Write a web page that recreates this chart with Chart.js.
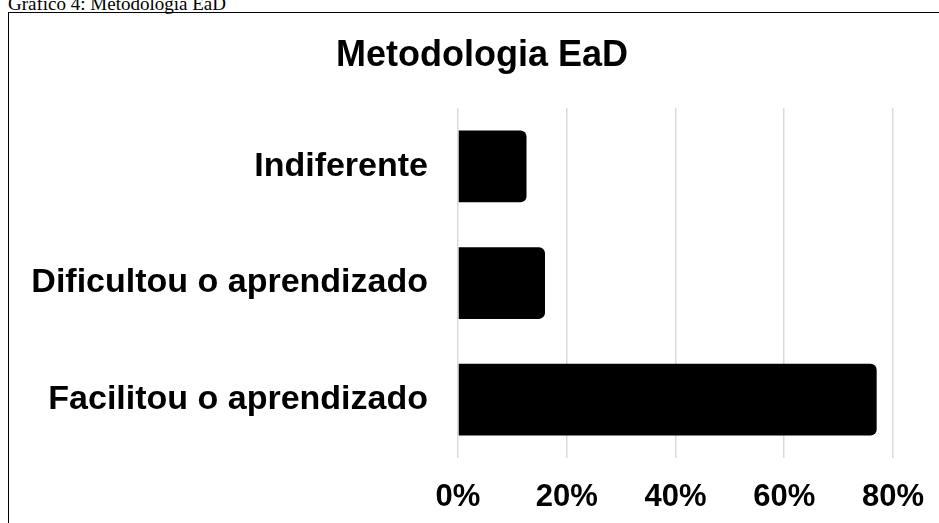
<!DOCTYPE html>
<html>
<head>
<meta charset="utf-8">
<script src="https://cdn.jsdelivr.net/npm/chart.js@4/dist/chart.umd.min.js"></script>
<style>
  html, body { margin: 0; padding: 0; background: #fff; overflow: hidden; }
  #caption {
    position: absolute; left: 8px; top: -6px;
    font-family: "Liberation Serif", "Times New Roman", serif;
    font-size: 19px; line-height: 19px; color: #000; white-space: nowrap;
  }
  #frame {
    position: absolute; left: 8px; top: 12px; width: 960px; height: 560px;
    border: 1.5px solid #000; box-sizing: border-box;
  }
  #title {
    position: absolute; left: 282px; width: 400px; top: 36px; text-align: center;
    font-family: "Liberation Sans", Arial, sans-serif; font-weight: bold;
    font-size: 36px; line-height: 36px; color: #000; white-space: nowrap;
  }
  #wrap { position: absolute; left: 0; top: 0; width: 945px; height: 523px; }
</style>
</head>
<body>
<div id="caption">Gráfico 4: Metodologia EaD</div>
<div id="frame"></div>
<div id="wrap"><canvas id="chart"></canvas></div>
<div id="title">Metodologia EaD</div>
<script>
// data
const categories = ['Indiferente', 'Dificultou o aprendizado', 'Facilitou o aprendizado'];
const percentages = [12.6, 16, 77];
const tickValues = [0, 20, 40, 60, 80];

const fontFamily = '"Liberation Sans", Arial, sans-serif';

const ctx = document.getElementById('chart').getContext('2d');
window.myChart = new Chart(ctx, {
    type: 'bar',
    data: {
        labels: categories,
        datasets: [{
            label: 'Metodologia EaD',
            data: percentages,
            backgroundColor: '#000',
            borderRadius: 6,
            borderSkipped: 'start',
            barPercentage: 0.615,
            categoryPercentage: 1
        }]
    },
    options: {
        indexAxis: 'y',
        responsive: true,
        maintainAspectRatio: false,
        animation: false,
        layout: { padding: { top: 108, right: 10, bottom: 8, left: 0 } },
        scales: {
            x: {
                min: 0,
                max: 80,
                afterBuildTicks: scale => { scale.ticks = tickValues.map(v => ({ value: v })); },
                afterFit: scale => { scale.height = 57; },
                ticks: {
                    callback: v => v + '%',
                    color: '#000',
                    padding: 21,
                    font: { family: fontFamily, size: 31, weight: 'bold' }
                },
                grid: { color: '#d9d9d9', lineWidth: 1.5, drawTicks: false },
                border: { display: false }
            },
            y: {
                afterFit: scale => { scale.width = 458; },
                ticks: {
                    color: '#000',
                    padding: 22,
                    font: { family: fontFamily, size: 34, weight: 'bold' }
                },
                grid: { display: false },
                border: { display: false }
            }
        },
        plugins: {
            legend: { display: false },
            tooltip: { enabled: false },
            title: { display: false }
        }
    }
});
</script>
</body>
</html>
